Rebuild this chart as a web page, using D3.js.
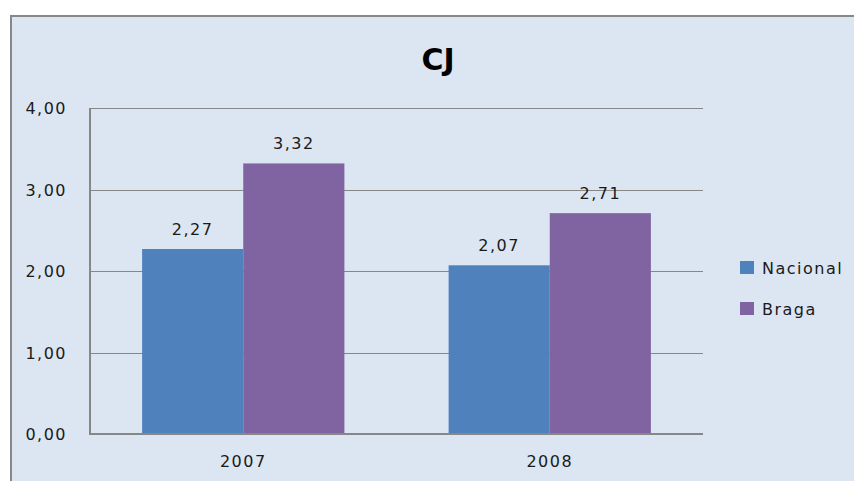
<!DOCTYPE html>
<html><head><meta charset="utf-8">
<script src="https://cdn.jsdelivr.net/npm/d3@7"></script>
<style>html,body{margin:0;padding:0;background:#fff;}</style>
</head><body>
<svg id="c" width="854" height="481"></svg>
<script>
const title = "CJ";
const categories = ["2007", "2008"];
const seriesNames = ["Nacional", "Braga"];
const nacional = [2.27, 2.07];
const braga = [3.32, 2.71];
const yTicks = [0, 1, 2, 3, 4];
const colors = ["#4f81bd", "#8064a2"];

const svg = d3.select("#c");
const fmt = v => v.toFixed(2).replace(".", ",");
const font = "DejaVu Sans, Verdana, sans-serif";
const fs = 16, ls = 1.5, tc = "#1a1a1a";

svg.append("rect").attr("x", 11).attr("y", 16).attr("width", 900).attr("height", 500)
  .attr("fill", "#dce6f2").attr("stroke", "#878787").attr("stroke-width", 2);

const m = {left: 90, right: 703, top: 108, bottom: 434};
const x0 = d3.scaleBand().domain(categories).range([m.left, m.right]).paddingInner(0.34).paddingOuter(0.17);
const x1 = d3.scaleBand().domain(seriesNames).range([0, x0.bandwidth()]);
const y = d3.scaleLinear().domain([0, 4]).range([m.bottom, m.top]);

// gridlines
svg.append("g").selectAll("line").data(yTicks.filter(t => t > 0)).join("line")
  .attr("x1", m.left).attr("x2", m.right)
  .attr("y1", d => Math.round(y(d)) + 0.5).attr("y2", d => Math.round(y(d)) + 0.5)
  .attr("stroke", "#878787").attr("stroke-width", 1);

const data = categories.map((c, i) => ({c, vals: [nacional[i], braga[i]]}));
const g = svg.append("g").selectAll("g").data(data).join("g")
  .attr("transform", d => `translate(${x0(d.c)},0)`);
g.selectAll("rect").data(d => d.vals.map((v, j) => ({v, s: seriesNames[j], j}))).join("rect")
  .attr("x", d => x1(d.s)).attr("width", x1.bandwidth())
  .attr("y", d => y(d.v)).attr("height", d => y(0) - y(d.v))
  .attr("fill", d => colors[d.j]);
g.selectAll("text").data(d => d.vals.map((v, j) => ({v, s: seriesNames[j]}))).join("text")
  .attr("x", d => x1(d.s) + x1.bandwidth() / 2).attr("y", d => y(d.v) - 14)
  .attr("text-anchor", "middle").attr("font-family", font).attr("font-size", fs)
  .attr("letter-spacing", ls).attr("fill", tc).text(d => fmt(d.v));

// axes
const yAxis = svg.append("g").attr("transform", `translate(${m.left},0)`)
  .call(d3.axisLeft(y).tickValues(yTicks).tickSize(0).tickPadding(23).tickFormat(fmt));
yAxis.select(".domain").remove();
yAxis.selectAll("text").attr("font-family", font).attr("font-size", fs)
  .attr("letter-spacing", ls).attr("fill", tc).attr("dy", "0.35em");
svg.append("line").attr("x1", m.left).attr("x2", m.left).attr("y1", m.top).attr("y2", m.bottom + 1)
  .attr("stroke", "#878787").attr("stroke-width", 2);

const xAxis = svg.append("g").attr("transform", `translate(0,${m.bottom})`)
  .call(d3.axisBottom(x0).tickSize(0).tickPadding(22));
xAxis.select(".domain").remove();
xAxis.selectAll("text").attr("font-family", font).attr("font-size", fs)
  .attr("letter-spacing", ls).attr("fill", tc);
svg.append("line").attr("x1", m.left - 1).attr("x2", m.right).attr("y1", m.bottom).attr("y2", m.bottom)
  .attr("stroke", "#878787").attr("stroke-width", 2);

// title
svg.append("text").attr("x", 438).attr("y", 70).attr("text-anchor", "middle")
  .attr("font-family", font).attr("font-weight", "bold").attr("font-size", 30)
  .attr("fill", "#000").text(title);

// legend
const lg = svg.append("g").selectAll("g").data(seriesNames).join("g")
  .attr("transform", (d, i) => `translate(740,${261 + i * 41})`);
lg.append("rect").attr("width", 14).attr("height", 13).attr("fill", (d, i) => colors[i]);
lg.append("text").attr("x", 22).attr("y", 13).attr("font-family", font).attr("font-size", fs)
  .attr("letter-spacing", ls).attr("fill", tc).text(d => d);
</script>
</body></html>
